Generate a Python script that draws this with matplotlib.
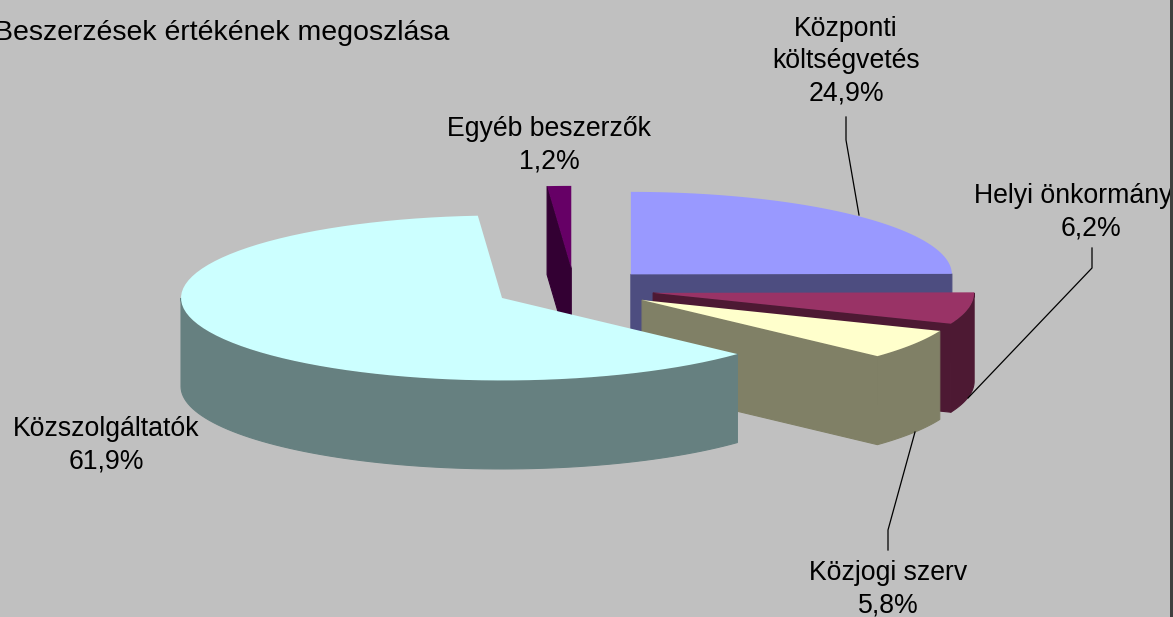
import numpy as np
import matplotlib
matplotlib.use('Agg')
import matplotlib.pyplot as plt

# Data
names = ['Központi\nköltségvetés', 'Helyi önkormányzat', 'Közjogi szerv', 'Közszolgáltatók', 'Egyéb beszerzők']
values = [24.9, 6.2, 5.8, 61.9, 1.2]
title = 'Beszerzések értékének megoszlása'

# Styles, one per slice
top_colors = ['#9999FF', '#993366', '#FFFFCC', '#CCFFFF', '#660066']
side_colors = ['#4D4D80', '#4D1933', '#808066', '#668080', '#330033']
label_pos = [(846, 61), (1091, 212), (888, 589), (106, 445), (549, 145)]
leaders = [[(846, 117), (846, 140), (859, 215)],
           [(1092, 248), (1092, 268), (968, 398)],
           [(888, 550), (888, 530), (915, 432)]]
draw_order = [0, 1, 2, 4, 3]

# Pie geometry in pixels
cx, cy = 574.3, 289
rx, ry = 321, 82.5
depth = 88.5
explode = 0.25

plt.rcParams['font.family'] = ['Liberation Sans', 'DejaVu Sans']
fig = plt.figure(figsize=(11.73, 6.17), dpi=100, facecolor='#C0C0C0')
ax = fig.add_axes([0, 0, 1, 1])
ax.set_xlim(0, 1173)
ax.set_ylim(617, 0)
ax.axis('off')


def rim(apex, a0, a1):
    '''Points of the top rim between two angles, clockwise from 12 o'clock'''
    t = np.radians(np.linspace(a0, a1, 80))
    return apex[0] + rx * np.sin(t), apex[1] - ry * np.cos(t)


def draw_slice(start, end, top, side):
    mid = np.radians((start + end) / 2)
    apex = (cx + explode * rx * np.sin(mid), cy - explode * ry * np.cos(mid))

    # Cut faces that look towards the viewer
    for a, visible in ((end, end < 180), (start, start >= 180)):
        if visible:
            x, y = rim(apex, a, a)
            ax.fill([apex[0], x[0], x[0], apex[0]],
                    [apex[1], y[0], y[0] + depth, apex[1] + depth],
                    fc=side, ec=side, lw=0.8)

    # Curved outer wall, front half only
    a0, a1 = max(start, 90), min(end, 270)
    if a0 < a1:
        x, y = rim(apex, a0, a1)
        ax.fill(np.r_[x, x[::-1]], np.r_[y, y[::-1] + depth], fc=side, ec=side, lw=0.8)

    # Top face
    x, y = rim(apex, start, end)
    ax.fill(np.r_[apex[0], x], np.r_[apex[1], y], color=top, lw=0)


# Slice angles come from the values
edges = np.r_[0, np.cumsum(values)] / np.sum(values) * 360
for i in draw_order:
    draw_slice(edges[i], edges[i + 1], top_colors[i], side_colors[i])

for pts in leaders:
    ax.plot([p[0] for p in pts], [p[1] for p in pts], color='black', lw=0.9)

for name, val, pos in zip(names, values, label_pos):
    ax.text(pos[0], pos[1], name + '\n' + str(val).replace('.', ',') + '%',
            ha='center', va='center', ma='center', fontsize=19.2, linespacing=1.31, color='black')

ax.text(-6, 33, title, ha='left', va='center', fontsize=20.5, color='black')

# Dark strip at the right edge covers the cut label
ax.fill_between([1169.5, 1173], 0, 617, color='#404040', lw=0, zorder=5)

fig.savefig('out.png', dpi=100, facecolor=fig.get_facecolor())
